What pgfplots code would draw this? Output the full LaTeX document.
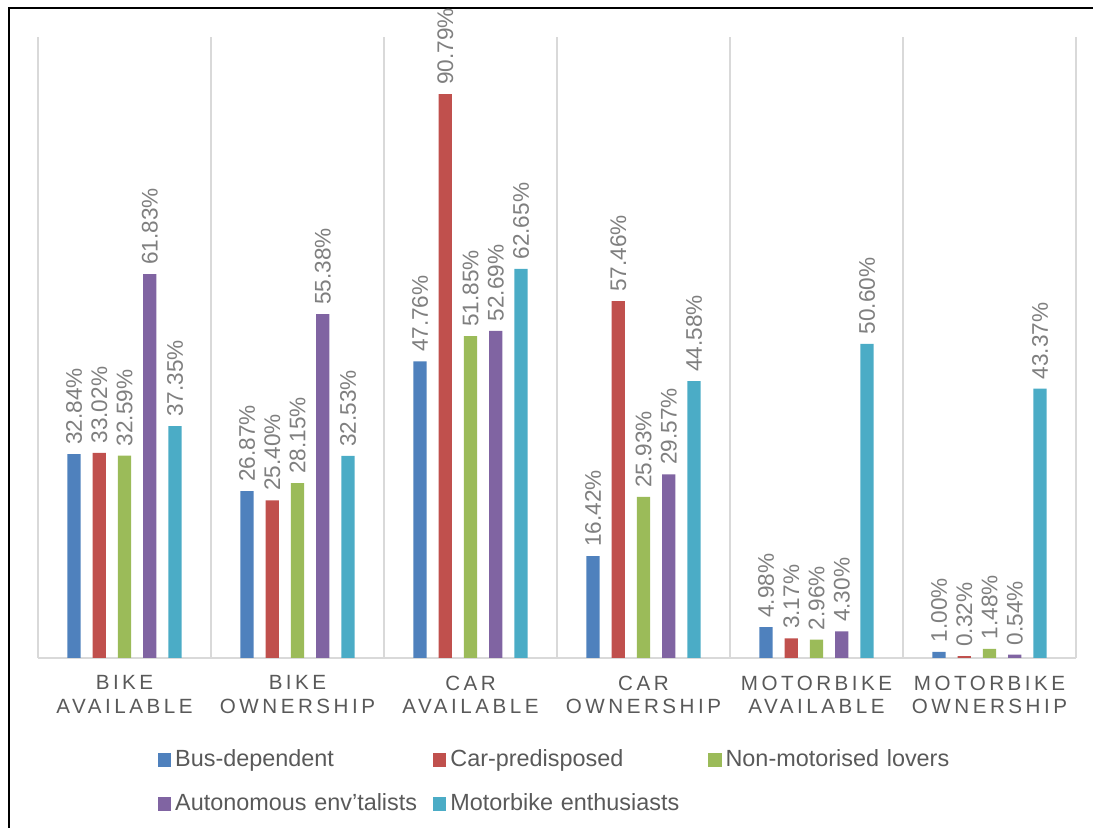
\documentclass[border=0pt]{standalone}
\usepackage{fontspec}
\setmainfont{Liberation Sans}
\newfontfamily\tickfont[LetterSpace=17]{Liberation Sans}
\usepackage{pgfplots}
\pgfplotsset{compat=1.18}
\usepackage{pgfplotstable}

\definecolor{busblue}{HTML}{4F81BD}
\definecolor{carred}{HTML}{C0504D}
\definecolor{nmgreen}{HTML}{9BBB59}
\definecolor{autopurple}{HTML}{8064A2}
\definecolor{motoaqua}{HTML}{4BACC6}
\definecolor{labelgray}{HTML}{595959}
\definecolor{valgray}{HTML}{7F7F7F}
\definecolor{gridgray}{HTML}{D9D9D9}

% share of each segment (%), one row per indicator
\pgfplotstableread{
x  bus    car    nonmot auto   moto
0  32.84  33.02  32.59  61.83  37.35
1  26.87  25.40  28.15  55.38  32.53
2  47.76  90.79  51.85  52.69  62.65
3  16.42  57.46  25.93  29.57  44.58
4   4.98   3.17   2.96   4.30  50.60
5   1.00   0.32   1.48   0.54  43.37
}\shares

\begin{document}
\begin{tikzpicture}[x=1pt,y=1pt]
\path[use as bounding box] (0,0) rectangle (546.5,414);
\draw[line width=1pt] (4.25,0) -- (4.25,410) -- (546.5,410);
\begin{axis}[
  at={(19pt,85pt)}, anchor=south west,
  scale only axis, width=519pt, height=310.5pt,
  xmin=-0.5, xmax=5.5, ymin=0, ymax=100,
  ybar, bar width=0.077,
  axis line style={draw=none},
  ytick=\empty,
  extra y ticks={0}, extra y tick labels={},
  extra y tick style={grid=major, major grid style={gridgray, line width=1pt}, major tick length=0pt},
  xtick={0,...,5},
  xticklabels={{BIKE\\AVAILABLE},{BIKE\\OWNERSHIP},{CAR\\AVAILABLE},{CAR\\OWNERSHIP},{MOTORBIKE\\AVAILABLE},{MOTORBIKE\\OWNERSHIP}},
  xticklabel style={align=center, font=\tickfont\fontsize{10.3}{11.75}\selectfont, text=labelgray, yshift=-5.3pt},
  major tick length=0pt,
  minor xtick={-0.5,0.5,...,5.5},
  minor tick length=0pt,
  xminorgrids=true,
  minor grid style={gridgray, line width=1pt},
  nodes near coords={\pgfmathprintnumber[fixed,fixed zerofill,precision=2,assume math mode=true]{\pgfplotspointmeta}\%},
  every node near coord/.append style={rotate=90, anchor=west, inner xsep=4.5pt, text=valgray, font=\fontsize{11.3}{13}\selectfont},
  legend columns=3,
  legend cell align=left,
  legend style={draw=none, fill=none, inner sep=0pt, outer sep=0pt,
    at={(axis description cs:0.1156,-0.1417)}, anchor=north west,
    font=\fontsize{11.7}{13}\selectfont, text=labelgray,
    /tikz/every even column/.append style={text width=127pt},
    row sep=8pt},
  legend image code/.code={\fill[#1] (0pt,-3.3pt) rectangle (6.6pt,3.3pt);},
]
\addplot[fill=busblue, draw=none, bar shift=-0.292] table[x=x, y=bus] {\shares};
\addplot[fill=carred, draw=none, bar shift=-0.146] table[x=x, y=car] {\shares};
\addplot[fill=nmgreen, draw=none, bar shift=0] table[x=x, y=nonmot] {\shares};
\addplot[fill=autopurple, draw=none, bar shift=0.146] table[x=x, y=auto] {\shares};
\addplot[fill=motoaqua, draw=none, bar shift=0.292] table[x=x, y=moto] {\shares};
\legend{Bus-dependent, Car-predisposed, Non-motorised lovers, Autonomous env'talists, Motorbike enthusiasts}
\end{axis}
\end{tikzpicture}
\end{document}
